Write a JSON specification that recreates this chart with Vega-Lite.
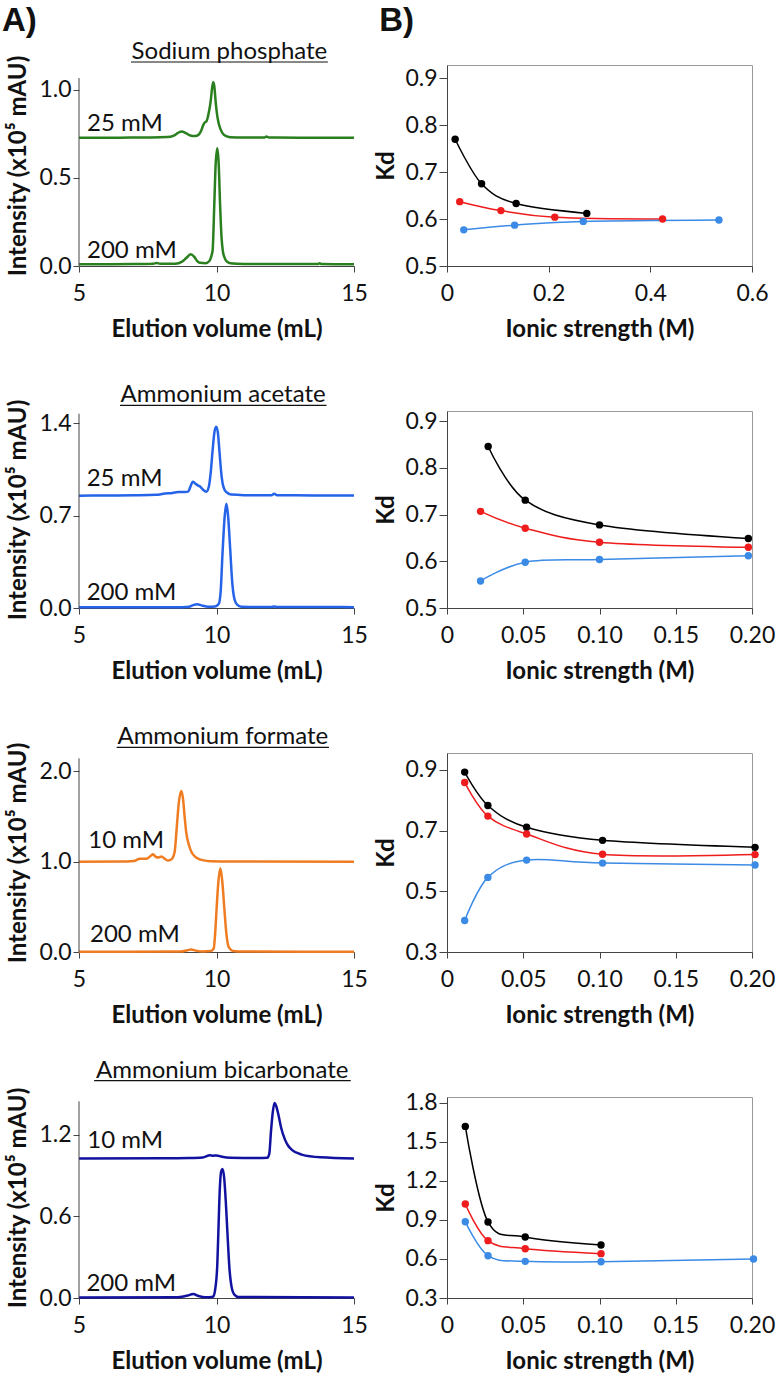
{
"$schema": "https://vega.github.io/schema/vega-lite/v6.json",
"padding": {"left": 2, "top": 4, "right": 0, "bottom": 0},
"columns": 2,
"spacing": {"row": 145, "column": 93},
"bounds": "flush",
"align": "each",
"config": {
  "font": "Lato",
  "view": {"stroke": null},
  "axis": {"labelFont": "Lato", "labelFontSize": 23, "labelColor": "#111", "titleFont": "Lato", "titleFontSize": 24, "titleFontWeight": "bold", "titleColor": "#111", "grid": false, "domainColor": "#444", "tickColor": "#444", "labelFlush": false, "labelOverlap": false, "tickSize": 6},
  "text": {"font": "Lato", "color": "#111"}
},
"datasets": {
  "chrom": [
    {"panel":"SP","conc":"25 mM","volume":5.0,"intensity":0.728},
    {"panel":"SP","conc":"25 mM","volume":6.5,"intensity":0.728},
    {"panel":"SP","conc":"25 mM","volume":7.5,"intensity":0.729},
    {"panel":"SP","conc":"25 mM","volume":8.2,"intensity":0.731},
    {"panel":"SP","conc":"25 mM","volume":8.45,"intensity":0.740},
    {"panel":"SP","conc":"25 mM","volume":8.6,"intensity":0.755},
    {"panel":"SP","conc":"25 mM","volume":8.73,"intensity":0.763},
    {"panel":"SP","conc":"25 mM","volume":8.9,"intensity":0.752},
    {"panel":"SP","conc":"25 mM","volume":9.05,"intensity":0.740},
    {"panel":"SP","conc":"25 mM","volume":9.22,"intensity":0.737},
    {"panel":"SP","conc":"25 mM","volume":9.35,"intensity":0.745},
    {"panel":"SP","conc":"25 mM","volume":9.45,"intensity":0.770},
    {"panel":"SP","conc":"25 mM","volume":9.52,"intensity":0.800},
    {"panel":"SP","conc":"25 mM","volume":9.58,"intensity":0.815},
    {"panel":"SP","conc":"25 mM","volume":9.64,"intensity":0.822},
    {"panel":"SP","conc":"25 mM","volume":9.72,"intensity":0.870},
    {"panel":"SP","conc":"25 mM","volume":9.79,"intensity":0.936},
    {"panel":"SP","conc":"25 mM","volume":9.84,"intensity":1.010},
    {"panel":"SP","conc":"25 mM","volume":9.88,"intensity":1.042},
    {"panel":"SP","conc":"25 mM","volume":9.92,"intensity":1.020},
    {"panel":"SP","conc":"25 mM","volume":9.97,"intensity":0.930},
    {"panel":"SP","conc":"25 mM","volume":10.02,"intensity":0.860},
    {"panel":"SP","conc":"25 mM","volume":10.07,"intensity":0.815},
    {"panel":"SP","conc":"25 mM","volume":10.15,"intensity":0.775},
    {"panel":"SP","conc":"25 mM","volume":10.25,"intensity":0.747},
    {"panel":"SP","conc":"25 mM","volume":10.38,"intensity":0.735},
    {"panel":"SP","conc":"25 mM","volume":10.5,"intensity":0.730},
    {"panel":"SP","conc":"25 mM","volume":11.0,"intensity":0.729},
    {"panel":"SP","conc":"25 mM","volume":11.75,"intensity":0.729},
    {"panel":"SP","conc":"25 mM","volume":11.82,"intensity":0.734},
    {"panel":"SP","conc":"25 mM","volume":11.9,"intensity":0.729},
    {"panel":"SP","conc":"25 mM","volume":13.0,"intensity":0.728},
    {"panel":"SP","conc":"25 mM","volume":15.0,"intensity":0.728},
    {"panel":"SP","conc":"200 mM","volume":5.0,"intensity":0.010},
    {"panel":"SP","conc":"200 mM","volume":7.0,"intensity":0.011},
    {"panel":"SP","conc":"200 mM","volume":7.7,"intensity":0.013},
    {"panel":"SP","conc":"200 mM","volume":7.82,"intensity":0.017},
    {"panel":"SP","conc":"200 mM","volume":7.95,"intensity":0.013},
    {"panel":"SP","conc":"200 mM","volume":8.5,"intensity":0.013},
    {"panel":"SP","conc":"200 mM","volume":8.75,"intensity":0.025},
    {"panel":"SP","conc":"200 mM","volume":8.9,"intensity":0.045},
    {"panel":"SP","conc":"200 mM","volume":9.06,"intensity":0.066},
    {"panel":"SP","conc":"200 mM","volume":9.2,"intensity":0.050},
    {"panel":"SP","conc":"200 mM","volume":9.3,"intensity":0.028},
    {"panel":"SP","conc":"200 mM","volume":9.4,"intensity":0.018},
    {"panel":"SP","conc":"200 mM","volume":9.6,"intensity":0.016},
    {"panel":"SP","conc":"200 mM","volume":9.75,"intensity":0.030},
    {"panel":"SP","conc":"200 mM","volume":9.82,"intensity":0.060},
    {"panel":"SP","conc":"200 mM","volume":9.86,"intensity":0.090},
    {"panel":"SP","conc":"200 mM","volume":9.92,"intensity":0.350},
    {"panel":"SP","conc":"200 mM","volume":9.97,"intensity":0.580},
    {"panel":"SP","conc":"200 mM","volume":10.03,"intensity":0.668},
    {"panel":"SP","conc":"200 mM","volume":10.08,"intensity":0.580},
    {"panel":"SP","conc":"200 mM","volume":10.13,"intensity":0.350},
    {"panel":"SP","conc":"200 mM","volume":10.18,"intensity":0.170},
    {"panel":"SP","conc":"200 mM","volume":10.23,"intensity":0.085},
    {"panel":"SP","conc":"200 mM","volume":10.3,"intensity":0.045},
    {"panel":"SP","conc":"200 mM","volume":10.38,"intensity":0.025},
    {"panel":"SP","conc":"200 mM","volume":10.5,"intensity":0.016},
    {"panel":"SP","conc":"200 mM","volume":11.0,"intensity":0.012},
    {"panel":"SP","conc":"200 mM","volume":12.0,"intensity":0.011},
    {"panel":"SP","conc":"200 mM","volume":13.7,"intensity":0.012},
    {"panel":"SP","conc":"200 mM","volume":13.75,"intensity":0.016},
    {"panel":"SP","conc":"200 mM","volume":13.8,"intensity":0.012},
    {"panel":"SP","conc":"200 mM","volume":15.0,"intensity":0.010},
    {"panel":"AA","conc":"25 mM","volume":5.0,"intensity":0.852},
    {"panel":"AA","conc":"25 mM","volume":6.0,"intensity":0.853},
    {"panel":"AA","conc":"25 mM","volume":7.0,"intensity":0.855},
    {"panel":"AA","conc":"25 mM","volume":7.8,"intensity":0.858},
    {"panel":"AA","conc":"25 mM","volume":8.12,"intensity":0.868},
    {"panel":"AA","conc":"25 mM","volume":8.4,"intensity":0.872},
    {"panel":"AA","conc":"25 mM","volume":8.6,"intensity":0.879},
    {"panel":"AA","conc":"25 mM","volume":8.85,"intensity":0.880},
    {"panel":"AA","conc":"25 mM","volume":8.98,"intensity":0.885},
    {"panel":"AA","conc":"25 mM","volume":9.05,"intensity":0.920},
    {"panel":"AA","conc":"25 mM","volume":9.14,"intensity":0.958},
    {"panel":"AA","conc":"25 mM","volume":9.22,"intensity":0.945},
    {"panel":"AA","conc":"25 mM","volume":9.32,"intensity":0.930},
    {"panel":"AA","conc":"25 mM","volume":9.42,"intensity":0.918},
    {"panel":"AA","conc":"25 mM","volume":9.52,"intensity":0.895},
    {"panel":"AA","conc":"25 mM","volume":9.63,"intensity":0.882},
    {"panel":"AA","conc":"25 mM","volume":9.72,"intensity":0.920},
    {"panel":"AA","conc":"25 mM","volume":9.8,"intensity":1.050},
    {"panel":"AA","conc":"25 mM","volume":9.86,"intensity":1.200},
    {"panel":"AA","conc":"25 mM","volume":9.93,"intensity":1.340},
    {"panel":"AA","conc":"25 mM","volume":9.99,"intensity":1.375},
    {"panel":"AA","conc":"25 mM","volume":10.05,"intensity":1.330},
    {"panel":"AA","conc":"25 mM","volume":10.11,"intensity":1.180},
    {"panel":"AA","conc":"25 mM","volume":10.18,"intensity":1.010},
    {"panel":"AA","conc":"25 mM","volume":10.25,"intensity":0.920},
    {"panel":"AA","conc":"25 mM","volume":10.35,"intensity":0.880},
    {"panel":"AA","conc":"25 mM","volume":10.53,"intensity":0.860},
    {"panel":"AA","conc":"25 mM","volume":11.0,"intensity":0.856},
    {"panel":"AA","conc":"25 mM","volume":12.0,"intensity":0.855},
    {"panel":"AA","conc":"25 mM","volume":12.1,"intensity":0.866},
    {"panel":"AA","conc":"25 mM","volume":12.2,"intensity":0.855},
    {"panel":"AA","conc":"25 mM","volume":13.5,"intensity":0.854},
    {"panel":"AA","conc":"25 mM","volume":15.0,"intensity":0.853},
    {"panel":"AA","conc":"200 mM","volume":5.0,"intensity":0.005},
    {"panel":"AA","conc":"200 mM","volume":8.5,"intensity":0.006},
    {"panel":"AA","conc":"200 mM","volume":9.0,"intensity":0.010},
    {"panel":"AA","conc":"200 mM","volume":9.15,"intensity":0.022},
    {"panel":"AA","conc":"200 mM","volume":9.3,"intensity":0.028},
    {"panel":"AA","conc":"200 mM","volume":9.45,"intensity":0.020},
    {"panel":"AA","conc":"200 mM","volume":9.7,"intensity":0.010},
    {"panel":"AA","conc":"200 mM","volume":9.95,"intensity":0.012},
    {"panel":"AA","conc":"200 mM","volume":10.08,"intensity":0.030},
    {"panel":"AA","conc":"200 mM","volume":10.15,"intensity":0.120},
    {"panel":"AA","conc":"200 mM","volume":10.22,"intensity":0.420},
    {"panel":"AA","conc":"200 mM","volume":10.3,"intensity":0.700},
    {"panel":"AA","conc":"200 mM","volume":10.36,"intensity":0.790},
    {"panel":"AA","conc":"200 mM","volume":10.42,"intensity":0.700},
    {"panel":"AA","conc":"200 mM","volume":10.5,"intensity":0.440},
    {"panel":"AA","conc":"200 mM","volume":10.57,"intensity":0.200},
    {"panel":"AA","conc":"200 mM","volume":10.65,"intensity":0.070},
    {"panel":"AA","conc":"200 mM","volume":10.75,"intensity":0.025},
    {"panel":"AA","conc":"200 mM","volume":10.9,"intensity":0.010},
    {"panel":"AA","conc":"200 mM","volume":12.0,"intensity":0.007},
    {"panel":"AA","conc":"200 mM","volume":12.1,"intensity":0.012},
    {"panel":"AA","conc":"200 mM","volume":12.2,"intensity":0.007},
    {"panel":"AA","conc":"200 mM","volume":13.6,"intensity":0.008},
    {"panel":"AA","conc":"200 mM","volume":15.0,"intensity":0.006},
    {"panel":"AF","conc":"10 mM","volume":5.0,"intensity":0.998},
    {"panel":"AF","conc":"10 mM","volume":6.5,"intensity":0.999},
    {"panel":"AF","conc":"10 mM","volume":7.0,"intensity":1.005},
    {"panel":"AF","conc":"10 mM","volume":7.21,"intensity":1.030},
    {"panel":"AF","conc":"10 mM","volume":7.45,"intensity":1.030},
    {"panel":"AF","conc":"10 mM","volume":7.6,"intensity":1.060},
    {"panel":"AF","conc":"10 mM","volume":7.69,"intensity":1.080},
    {"panel":"AF","conc":"10 mM","volume":7.8,"intensity":1.050},
    {"panel":"AF","conc":"10 mM","volume":7.9,"intensity":1.045},
    {"panel":"AF","conc":"10 mM","volume":8.0,"intensity":1.055},
    {"panel":"AF","conc":"10 mM","volume":8.12,"intensity":1.030},
    {"panel":"AF","conc":"10 mM","volume":8.24,"intensity":1.010},
    {"panel":"AF","conc":"10 mM","volume":8.38,"intensity":1.030},
    {"panel":"AF","conc":"10 mM","volume":8.48,"intensity":1.110},
    {"panel":"AF","conc":"10 mM","volume":8.56,"intensity":1.400},
    {"panel":"AF","conc":"10 mM","volume":8.63,"intensity":1.650},
    {"panel":"AF","conc":"10 mM","volume":8.72,"intensity":1.780},
    {"panel":"AF","conc":"10 mM","volume":8.78,"intensity":1.700},
    {"panel":"AF","conc":"10 mM","volume":8.84,"intensity":1.500},
    {"panel":"AF","conc":"10 mM","volume":8.9,"intensity":1.320},
    {"panel":"AF","conc":"10 mM","volume":9.0,"intensity":1.180},
    {"panel":"AF","conc":"10 mM","volume":9.1,"intensity":1.100},
    {"panel":"AF","conc":"10 mM","volume":9.2,"intensity":1.060},
    {"panel":"AF","conc":"10 mM","volume":9.35,"intensity":1.030},
    {"panel":"AF","conc":"10 mM","volume":9.5,"intensity":1.015},
    {"panel":"AF","conc":"10 mM","volume":9.8,"intensity":1.004},
    {"panel":"AF","conc":"10 mM","volume":10.5,"intensity":1.000},
    {"panel":"AF","conc":"10 mM","volume":15.0,"intensity":0.998},
    {"panel":"AF","conc":"200 mM","volume":5.0,"intensity":0.003},
    {"panel":"AF","conc":"200 mM","volume":8.7,"intensity":0.005},
    {"panel":"AF","conc":"200 mM","volume":8.95,"intensity":0.020},
    {"panel":"AF","conc":"200 mM","volume":9.08,"intensity":0.028},
    {"panel":"AF","conc":"200 mM","volume":9.25,"intensity":0.015},
    {"panel":"AF","conc":"200 mM","volume":9.5,"intensity":0.005},
    {"panel":"AF","conc":"200 mM","volume":9.8,"intensity":0.010},
    {"panel":"AF","conc":"200 mM","volume":9.9,"intensity":0.040},
    {"panel":"AF","conc":"200 mM","volume":9.95,"intensity":0.200},
    {"panel":"AF","conc":"200 mM","volume":10.0,"intensity":0.460},
    {"panel":"AF","conc":"200 mM","volume":10.07,"intensity":0.780},
    {"panel":"AF","conc":"200 mM","volume":10.14,"intensity":0.925},
    {"panel":"AF","conc":"200 mM","volume":10.21,"intensity":0.780},
    {"panel":"AF","conc":"200 mM","volume":10.29,"intensity":0.460},
    {"panel":"AF","conc":"200 mM","volume":10.36,"intensity":0.200},
    {"panel":"AF","conc":"200 mM","volume":10.45,"intensity":0.050},
    {"panel":"AF","conc":"200 mM","volume":10.6,"intensity":0.012},
    {"panel":"AF","conc":"200 mM","volume":11.0,"intensity":0.005},
    {"panel":"AF","conc":"200 mM","volume":15.0,"intensity":0.003},
    {"panel":"AB","conc":"10 mM","volume":5.0,"intensity":1.025},
    {"panel":"AB","conc":"10 mM","volume":8.0,"intensity":1.026},
    {"panel":"AB","conc":"10 mM","volume":9.0,"intensity":1.028},
    {"panel":"AB","conc":"10 mM","volume":9.5,"intensity":1.032},
    {"panel":"AB","conc":"10 mM","volume":9.76,"intensity":1.048},
    {"panel":"AB","conc":"10 mM","volume":9.88,"intensity":1.045},
    {"panel":"AB","conc":"10 mM","volume":10.0,"intensity":1.047},
    {"panel":"AB","conc":"10 mM","volume":10.2,"intensity":1.037},
    {"panel":"AB","conc":"10 mM","volume":10.5,"intensity":1.030},
    {"panel":"AB","conc":"10 mM","volume":11.5,"intensity":1.028},
    {"panel":"AB","conc":"10 mM","volume":11.85,"intensity":1.030},
    {"panel":"AB","conc":"10 mM","volume":11.92,"intensity":1.060},
    {"panel":"AB","conc":"10 mM","volume":11.98,"intensity":1.220},
    {"panel":"AB","conc":"10 mM","volume":12.05,"intensity":1.370},
    {"panel":"AB","conc":"10 mM","volume":12.11,"intensity":1.432},
    {"panel":"AB","conc":"10 mM","volume":12.17,"intensity":1.410},
    {"panel":"AB","conc":"10 mM","volume":12.25,"intensity":1.347},
    {"panel":"AB","conc":"10 mM","volume":12.35,"intensity":1.250},
    {"panel":"AB","conc":"10 mM","volume":12.49,"intensity":1.163},
    {"panel":"AB","conc":"10 mM","volume":12.6,"intensity":1.120},
    {"panel":"AB","conc":"10 mM","volume":12.74,"intensity":1.088},
    {"panel":"AB","conc":"10 mM","volume":13.1,"intensity":1.053},
    {"panel":"AB","conc":"10 mM","volume":13.78,"intensity":1.033},
    {"panel":"AB","conc":"10 mM","volume":15.0,"intensity":1.025},
    {"panel":"AB","conc":"200 mM","volume":5.0,"intensity":0.004},
    {"panel":"AB","conc":"200 mM","volume":8.6,"intensity":0.006},
    {"panel":"AB","conc":"200 mM","volume":8.95,"intensity":0.018},
    {"panel":"AB","conc":"200 mM","volume":9.15,"intensity":0.030},
    {"panel":"AB","conc":"200 mM","volume":9.35,"intensity":0.015},
    {"panel":"AB","conc":"200 mM","volume":9.6,"intensity":0.006},
    {"panel":"AB","conc":"200 mM","volume":9.88,"intensity":0.010},
    {"panel":"AB","conc":"200 mM","volume":9.95,"intensity":0.060},
    {"panel":"AB","conc":"200 mM","volume":10.03,"intensity":0.250},
    {"panel":"AB","conc":"200 mM","volume":10.07,"intensity":0.500},
    {"panel":"AB","conc":"200 mM","volume":10.12,"intensity":0.800},
    {"panel":"AB","conc":"200 mM","volume":10.17,"intensity":0.930},
    {"panel":"AB","conc":"200 mM","volume":10.22,"intensity":0.947},
    {"panel":"AB","conc":"200 mM","volume":10.28,"intensity":0.880},
    {"panel":"AB","conc":"200 mM","volume":10.34,"intensity":0.700},
    {"panel":"AB","conc":"200 mM","volume":10.4,"intensity":0.470},
    {"panel":"AB","conc":"200 mM","volume":10.47,"intensity":0.220},
    {"panel":"AB","conc":"200 mM","volume":10.55,"intensity":0.080},
    {"panel":"AB","conc":"200 mM","volume":10.65,"intensity":0.025},
    {"panel":"AB","conc":"200 mM","volume":10.8,"intensity":0.008},
    {"panel":"AB","conc":"200 mM","volume":15.0,"intensity":0.004}
  ],
  "labels": [
    {"panel":"SP","label":"25 mM","volume":5.29,"intensity":0.766},
    {"panel":"SP","label":"200 mM","volume":5.29,"intensity":0.047},
    {"panel":"AA","label":"25 mM","volume":5.28,"intensity":0.925},
    {"panel":"AA","label":"200 mM","volume":5.28,"intensity":0.06},
    {"panel":"AF","label":"10 mM","volume":5.34,"intensity":1.146},
    {"panel":"AF","label":"200 mM","volume":5.4,"intensity":0.115},
    {"panel":"AB","label":"10 mM","volume":5.3,"intensity":1.101},
    {"panel":"AB","label":"200 mM","volume":5.27,"intensity":0.054}
  ],
  "kd": [
    {"panel":"SP","series":"black","ionic":0.016,"kd":0.770},
    {"panel":"SP","series":"black","ionic":0.068,"kd":0.675},
    {"panel":"SP","series":"black","ionic":0.136,"kd":0.633},
    {"panel":"SP","series":"black","ionic":0.275,"kd":0.612},
    {"panel":"SP","series":"red","ionic":0.025,"kd":0.637},
    {"panel":"SP","series":"red","ionic":0.106,"kd":0.618},
    {"panel":"SP","series":"red","ionic":0.212,"kd":0.604},
    {"panel":"SP","series":"red","ionic":0.424,"kd":0.600},
    {"panel":"SP","series":"blue","ionic":0.033,"kd":0.577},
    {"panel":"SP","series":"blue","ionic":0.133,"kd":0.587},
    {"panel":"SP","series":"blue","ionic":0.268,"kd":0.595},
    {"panel":"SP","series":"blue","ionic":0.535,"kd":0.598},
    {"panel":"AA","series":"black","ionic":0.027,"kd":0.846},
    {"panel":"AA","series":"black","ionic":0.0513,"kd":0.731},
    {"panel":"AA","series":"black","ionic":0.100,"kd":0.678},
    {"panel":"AA","series":"black","ionic":0.1976,"kd":0.649},
    {"panel":"AA","series":"red","ionic":0.022,"kd":0.707},
    {"panel":"AA","series":"red","ionic":0.0513,"kd":0.671},
    {"panel":"AA","series":"red","ionic":0.100,"kd":0.641},
    {"panel":"AA","series":"red","ionic":0.1976,"kd":0.630},
    {"panel":"AA","series":"blue","ionic":0.022,"kd":0.558},
    {"panel":"AA","series":"blue","ionic":0.0513,"kd":0.598},
    {"panel":"AA","series":"blue","ionic":0.100,"kd":0.604},
    {"panel":"AA","series":"blue","ionic":0.1976,"kd":0.612},
    {"panel":"AF","series":"black","ionic":0.0116,"kd":0.893},
    {"panel":"AF","series":"black","ionic":0.0268,"kd":0.783},
    {"panel":"AF","series":"black","ionic":0.0522,"kd":0.711},
    {"panel":"AF","series":"black","ionic":0.102,"kd":0.668},
    {"panel":"AF","series":"black","ionic":0.202,"kd":0.645},
    {"panel":"AF","series":"red","ionic":0.0116,"kd":0.859},
    {"panel":"AF","series":"red","ionic":0.0268,"kd":0.748},
    {"panel":"AF","series":"red","ionic":0.0522,"kd":0.689},
    {"panel":"AF","series":"red","ionic":0.102,"kd":0.622},
    {"panel":"AF","series":"red","ionic":0.202,"kd":0.621},
    {"panel":"AF","series":"blue","ionic":0.0116,"kd":0.404},
    {"panel":"AF","series":"blue","ionic":0.0268,"kd":0.546},
    {"panel":"AF","series":"blue","ionic":0.0522,"kd":0.603},
    {"panel":"AF","series":"blue","ionic":0.102,"kd":0.593},
    {"panel":"AF","series":"blue","ionic":0.202,"kd":0.587},
    {"panel":"AB","series":"black","ionic":0.012,"kd":1.620},
    {"panel":"AB","series":"black","ionic":0.0269,"kd":0.885},
    {"panel":"AB","series":"black","ionic":0.0513,"kd":0.769},
    {"panel":"AB","series":"black","ionic":0.101,"kd":0.708},
    {"panel":"AB","series":"red","ionic":0.012,"kd":1.023},
    {"panel":"AB","series":"red","ionic":0.0269,"kd":0.741},
    {"panel":"AB","series":"red","ionic":0.0513,"kd":0.679},
    {"panel":"AB","series":"red","ionic":0.101,"kd":0.641},
    {"panel":"AB","series":"blue","ionic":0.012,"kd":0.887},
    {"panel":"AB","series":"blue","ionic":0.0269,"kd":0.625},
    {"panel":"AB","series":"blue","ionic":0.0513,"kd":0.582},
    {"panel":"AB","series":"blue","ionic":0.101,"kd":0.579},
    {"panel":"AB","series":"blue","ionic":0.201,"kd":0.600}
  ]
},
"concat": [
  {
    "width": 275, "height": 201, "view": {"stroke": null},
    "layer": [
      {"data": {"name": "chrom"}, "transform": [{"filter": "datum.panel === 'SP'"}],
       "mark": {"type": "line", "color": "#2a7f1e", "strokeWidth": 2.5, "interpolate": "monotone"},
       "encoding": {
         "x": {"field": "volume", "type": "quantitative", "scale": {"domain": [5, 15], "nice": false, "zero": false}, "axis": {"title": "Elution volume (mL)", "values": [5, 10, 15], "labelPadding": 10, "titlePadding": 12}},
         "y": {"field": "intensity", "type": "quantitative", "scale": {"domain": [0, 1.14], "nice": false}, "axis": {"title": "Intensity (x10⁵ mAU)", "values": [0, 0.5, 1.0], "format": ".1f", "domain": false, "labelPadding": 2, "titlePadding": 8}},
         "detail": {"field": "conc"}}},
      {"data": {"name": "labels"}, "transform": [{"filter": "datum.panel === 'SP'"}],
       "mark": {"type": "text", "align": "left", "baseline": "alphabetic", "fontSize": 24},
       "encoding": {"x": {"field": "volume", "type": "quantitative"}, "y": {"field": "intensity", "type": "quantitative"}, "text": {"field": "label"}}},
      {"data": {"values": [{}]}, "mark": {"type": "rule", "color": "#444"},
       "encoding": {"x": {"datum": 5}, "y": {"datum": 0}, "y2": {"datum": 1.066}}},
      {"data": {"values": [{}]}, "mark": {"type": "text", "fontSize": 24, "align": "center", "baseline": "alphabetic"},
       "encoding": {"x": {"datum": 10.47}, "y": {"datum": 1.174}, "text": {"value": "Sodium phosphate"}}},
      {"data": {"values": [{}]}, "mark": {"type": "rule", "color": "#111", "strokeWidth": 1.2},
       "encoding": {"x": {"datum": 6.89}, "x2": {"datum": 14.05}, "y": {"datum": 1.157}}},
      {"data": {"values": [{}]}, "mark": {"type": "text", "font": "Liberation Sans", "fontSize": 33, "fontWeight": "bold", "align": "left", "baseline": "alphabetic"},
       "encoding": {"x": {"datum": 2.2}, "y": {"datum": 1.333}, "text": {"value": "A)"}}}
    ]
  },
  {
    "width": 305, "height": 201, "view": {"stroke": "#999"},
    "layer": [
      {"data": {"name": "kd"}, "transform": [{"filter": "datum.panel === 'SP'"}],
       "mark": {"type": "line", "interpolate": "cardinal", "strokeWidth": 1.5},
       "encoding": {
         "x": {"field": "ionic", "type": "quantitative", "scale": {"domain": [0, 0.6], "nice": false}, "axis": {"title": "Ionic strength (M)", "values": [0, 0.2, 0.4, 0.6], "labelExpr": "datum.value == 0 ? '0' : format(datum.value, '.1f')", "labelPadding": 10, "titlePadding": 12}},
         "y": {"field": "kd", "type": "quantitative", "scale": {"domain": [0.5, 0.928], "nice": false, "zero": false}, "axis": {"title": "Kd", "values": [0.5, 0.6, 0.7, 0.8, 0.9], "format": ".1f", "tickSize": 8, "labelPadding": 2, "titlePadding": 6}},
         "color": {"field": "series", "type": "nominal", "scale": {"domain": ["black", "red", "blue"], "range": ["#000000", "#ee1c1c", "#3b8be6"]}, "legend": null}}},
      {"data": {"name": "kd"}, "transform": [{"filter": "datum.panel === 'SP'"}],
       "mark": {"type": "point", "filled": true, "size": 55, "opacity": 1},
       "encoding": {"x": {"field": "ionic", "type": "quantitative"}, "y": {"field": "kd", "type": "quantitative"}, "color": {"field": "series", "type": "nominal", "legend": null}}},
      {"data": {"values": [{}]}, "mark": {"type": "text", "font": "Liberation Sans", "fontSize": 33, "fontWeight": "bold", "align": "left", "baseline": "alphabetic"},
       "encoding": {"x": {"datum": -0.1335}, "y": {"datum": 1.0}, "text": {"value": "B)"}}}
    ]
  },
  {
    "width": 275, "height": 197, "view": {"stroke": null},
    "layer": [
      {"data": {"name": "chrom"}, "transform": [{"filter": "datum.panel === 'AA'"}],
       "mark": {"type": "line", "color": "#2563e8", "strokeWidth": 2.5, "interpolate": "monotone"},
       "encoding": {
         "x": {"field": "volume", "type": "quantitative", "scale": {"domain": [5, 15], "nice": false, "zero": false}, "axis": {"title": "Elution volume (mL)", "values": [5, 10, 15], "labelPadding": 10, "titlePadding": 12}},
         "y": {"field": "intensity", "type": "quantitative", "scale": {"domain": [0, 1.494], "nice": false}, "axis": {"title": "Intensity (x10⁵ mAU)", "values": [0, 0.7, 1.4], "format": ".1f", "domain": false, "labelPadding": 2, "titlePadding": 8}},
         "detail": {"field": "conc"}}},
      {"data": {"name": "labels"}, "transform": [{"filter": "datum.panel === 'AA'"}],
       "mark": {"type": "text", "align": "left", "baseline": "alphabetic", "fontSize": 24},
       "encoding": {"x": {"field": "volume", "type": "quantitative"}, "y": {"field": "intensity", "type": "quantitative"}, "text": {"field": "label"}}},
      {"data": {"values": [{}]}, "mark": {"type": "rule", "color": "#444"},
       "encoding": {"x": {"datum": 5}, "y": {"datum": 0}, "y2": {"datum": 1.473}}},
      {"data": {"values": [{}]}, "mark": {"type": "text", "fontSize": 24, "align": "center", "baseline": "alphabetic"},
       "encoding": {"x": {"datum": 10.24}, "y": {"datum": 1.559}, "text": {"value": "Ammonium acetate"}}},
      {"data": {"values": [{}]}, "mark": {"type": "rule", "color": "#111", "strokeWidth": 1.2},
       "encoding": {"x": {"datum": 6.49}, "x2": {"datum": 14.0}, "y": {"datum": 1.536}}}
    ]
  },
  {
    "width": 305, "height": 197, "view": {"stroke": "#999"},
    "layer": [
      {"data": {"name": "kd"}, "transform": [{"filter": "datum.panel === 'AA'"}],
       "mark": {"type": "line", "interpolate": "cardinal", "strokeWidth": 1.5},
       "encoding": {
         "x": {"field": "ionic", "type": "quantitative", "scale": {"domain": [0, 0.2], "nice": false}, "axis": {"title": "Ionic strength (M)", "values": [0, 0.05, 0.1, 0.15, 0.2], "labelExpr": "datum.value == 0 ? '0' : format(datum.value, '.2f')", "labelPadding": 10, "titlePadding": 12}},
         "y": {"field": "kd", "type": "quantitative", "scale": {"domain": [0.5, 0.922], "nice": false, "zero": false}, "axis": {"title": "Kd", "values": [0.5, 0.6, 0.7, 0.8, 0.9], "format": ".1f", "tickSize": 8, "labelPadding": 2, "titlePadding": 6}},
         "color": {"field": "series", "type": "nominal", "scale": {"domain": ["black", "red", "blue"], "range": ["#000000", "#ee1c1c", "#3b8be6"]}, "legend": null}}},
      {"data": {"name": "kd"}, "transform": [{"filter": "datum.panel === 'AA'"}],
       "mark": {"type": "point", "filled": true, "size": 55, "opacity": 1},
       "encoding": {"x": {"field": "ionic", "type": "quantitative"}, "y": {"field": "kd", "type": "quantitative"}, "color": {"field": "series", "type": "nominal", "legend": null}}}
    ]
  },
  {
    "width": 275, "height": 199, "view": {"stroke": null},
    "layer": [
      {"data": {"name": "chrom"}, "transform": [{"filter": "datum.panel === 'AF'"}],
       "mark": {"type": "line", "color": "#f07c22", "strokeWidth": 2.5, "interpolate": "monotone"},
       "encoding": {
         "x": {"field": "volume", "type": "quantitative", "scale": {"domain": [5, 15], "nice": false, "zero": false}, "axis": {"title": "Elution volume (mL)", "values": [5, 10, 15], "labelPadding": 10, "titlePadding": 12}},
         "y": {"field": "intensity", "type": "quantitative", "scale": {"domain": [0, 2.199], "nice": false}, "axis": {"title": "Intensity (x10⁵ mAU)", "values": [0, 1.0, 2.0], "format": ".1f", "domain": false, "labelPadding": 2, "titlePadding": 8}},
         "detail": {"field": "conc"}}},
      {"data": {"name": "labels"}, "transform": [{"filter": "datum.panel === 'AF'"}],
       "mark": {"type": "text", "align": "left", "baseline": "alphabetic", "fontSize": 24},
       "encoding": {"x": {"field": "volume", "type": "quantitative"}, "y": {"field": "intensity", "type": "quantitative"}, "text": {"field": "label"}}},
      {"data": {"values": [{}]}, "mark": {"type": "rule", "color": "#444"},
       "encoding": {"x": {"datum": 5}, "y": {"datum": 0}, "y2": {"datum": 2.14}}},
      {"data": {"values": [{}]}, "mark": {"type": "text", "fontSize": 24, "align": "center", "baseline": "alphabetic"},
       "encoding": {"x": {"datum": 10.23}, "y": {"datum": 2.295}, "text": {"value": "Ammonium formate"}}},
      {"data": {"values": [{}]}, "mark": {"type": "rule", "color": "#111", "strokeWidth": 1.2},
       "encoding": {"x": {"datum": 6.37}, "x2": {"datum": 14.09}, "y": {"datum": 2.262}}}
    ]
  },
  {
    "width": 305, "height": 199, "view": {"stroke": "#999"},
    "layer": [
      {"data": {"name": "kd"}, "transform": [{"filter": "datum.panel === 'AF'"}],
       "mark": {"type": "line", "interpolate": "cardinal", "strokeWidth": 1.5},
       "encoding": {
         "x": {"field": "ionic", "type": "quantitative", "scale": {"domain": [0, 0.2], "nice": false}, "axis": {"title": "Ionic strength (M)", "values": [0, 0.05, 0.1, 0.15, 0.2], "labelExpr": "datum.value == 0 ? '0' : format(datum.value, '.2f')", "labelPadding": 10, "titlePadding": 12}},
         "y": {"field": "kd", "type": "quantitative", "scale": {"domain": [0.3, 0.956], "nice": false, "zero": false}, "axis": {"title": "Kd", "values": [0.3, 0.5, 0.7, 0.9], "format": ".1f", "tickSize": 8, "labelPadding": 2, "titlePadding": 6}},
         "color": {"field": "series", "type": "nominal", "scale": {"domain": ["black", "red", "blue"], "range": ["#000000", "#ee1c1c", "#3b8be6"]}, "legend": null}}},
      {"data": {"name": "kd"}, "transform": [{"filter": "datum.panel === 'AF'"}],
       "mark": {"type": "point", "filled": true, "size": 55, "opacity": 1},
       "encoding": {"x": {"field": "ionic", "type": "quantitative"}, "y": {"field": "kd", "type": "quantitative"}, "color": {"field": "series", "type": "nominal", "legend": null}}}
    ]
  },
  {
    "width": 275, "height": 201, "view": {"stroke": null},
    "layer": [
      {"data": {"name": "chrom"}, "transform": [{"filter": "datum.panel === 'AB'"}],
       "mark": {"type": "line", "color": "#1212a0", "strokeWidth": 2.5, "interpolate": "monotone"},
       "encoding": {
         "x": {"field": "volume", "type": "quantitative", "scale": {"domain": [5, 15], "nice": false, "zero": false}, "axis": {"title": "Elution volume (mL)", "values": [5, 10, 15], "labelPadding": 10, "titlePadding": 12}},
         "y": {"field": "intensity", "type": "quantitative", "scale": {"domain": [0, 1.476], "nice": false}, "axis": {"title": "Intensity (x10⁵ mAU)", "values": [0, 0.6, 1.2], "format": ".1f", "domain": false, "labelPadding": 2, "titlePadding": 8}},
         "detail": {"field": "conc"}}},
      {"data": {"name": "labels"}, "transform": [{"filter": "datum.panel === 'AB'"}],
       "mark": {"type": "text", "align": "left", "baseline": "alphabetic", "fontSize": 24},
       "encoding": {"x": {"field": "volume", "type": "quantitative"}, "y": {"field": "intensity", "type": "quantitative"}, "text": {"field": "label"}}},
      {"data": {"values": [{}]}, "mark": {"type": "rule", "color": "#444"},
       "encoding": {"x": {"datum": 5}, "y": {"datum": 0}, "y2": {"datum": 1.444}}},
      {"data": {"values": [{}]}, "mark": {"type": "text", "fontSize": 24, "align": "center", "baseline": "alphabetic"},
       "encoding": {"x": {"datum": 10.21}, "y": {"datum": 1.618}, "text": {"value": "Ammonium bicarbonate"}}},
      {"data": {"values": [{}]}, "mark": {"type": "rule", "color": "#111", "strokeWidth": 1.2},
       "encoding": {"x": {"datum": 5.55}, "x2": {"datum": 14.88}, "y": {"datum": 1.596}}}
    ]
  },
  {
    "width": 305, "height": 201, "view": {"stroke": "#999"},
    "layer": [
      {"data": {"name": "kd"}, "transform": [{"filter": "datum.panel === 'AB'"}],
       "mark": {"type": "line", "interpolate": "cardinal", "strokeWidth": 1.5},
       "encoding": {
         "x": {"field": "ionic", "type": "quantitative", "scale": {"domain": [0, 0.2], "nice": false}, "axis": {"title": "Ionic strength (M)", "values": [0, 0.05, 0.1, 0.15, 0.2], "labelExpr": "datum.value == 0 ? '0' : format(datum.value, '.2f')", "labelPadding": 10, "titlePadding": 12}},
         "y": {"field": "kd", "type": "quantitative", "scale": {"domain": [0.3, 1.846], "nice": false, "zero": false}, "axis": {"title": "Kd", "values": [0.3, 0.6, 0.9, 1.2, 1.5, 1.8], "format": ".1f", "tickSize": 8, "labelPadding": 2, "titlePadding": 6}},
         "color": {"field": "series", "type": "nominal", "scale": {"domain": ["black", "red", "blue"], "range": ["#000000", "#ee1c1c", "#3b8be6"]}, "legend": null}}},
      {"data": {"name": "kd"}, "transform": [{"filter": "datum.panel === 'AB'"}],
       "mark": {"type": "point", "filled": true, "size": 55, "opacity": 1},
       "encoding": {"x": {"field": "ionic", "type": "quantitative"}, "y": {"field": "kd", "type": "quantitative"}, "color": {"field": "series", "type": "nominal", "legend": null}}}
    ]
  }
]
}
